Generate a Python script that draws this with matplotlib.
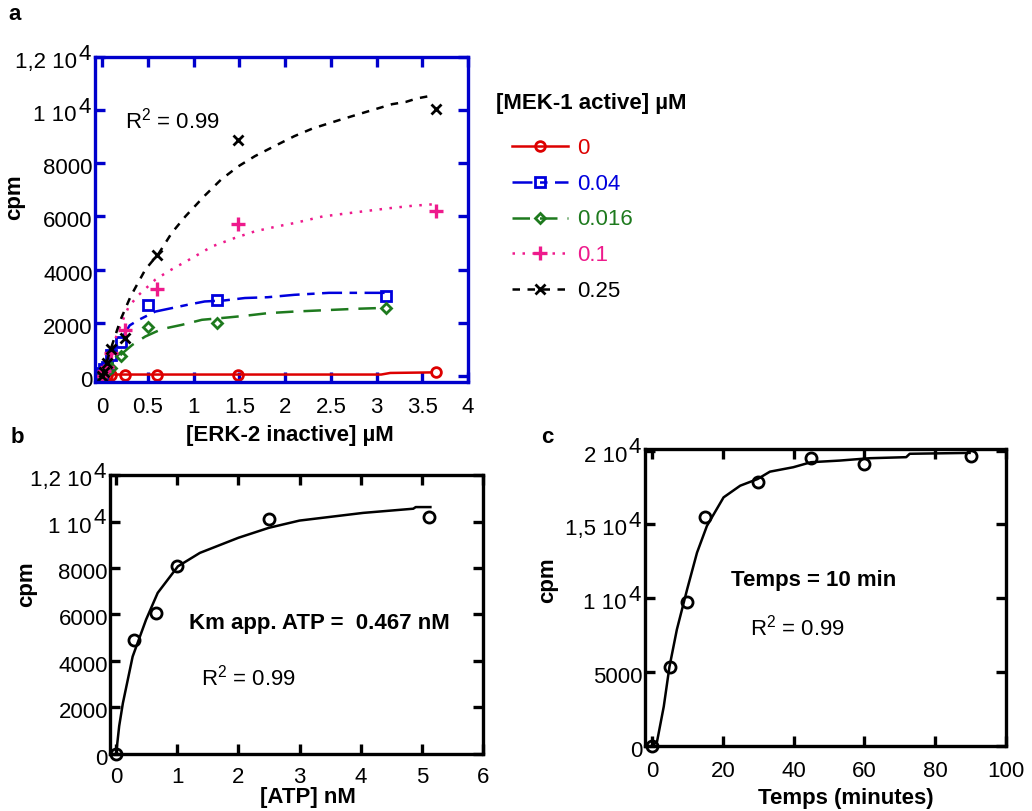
import numpy as np
import matplotlib
matplotlib.use('Agg')
import matplotlib.pyplot as plt
from matplotlib.transforms import ScaledTranslation, blended_transform_factory

plt.rcParams['font.family'] = ['Liberation Sans', 'DejaVu Sans']
plt.rcParams['mathtext.fontset'] = 'custom'
plt.rcParams['mathtext.rm'] = 'Liberation Sans'

# ---- panel a data ----
mek_labels = ['0', '0.04', '0.016', '0.1', '0.25']
x_a1 = [0, 0.02, 0.05, 0.1, 0.25, 0.6, 1.48, 3.65]   # red / pink / black
x_a2 = [0, 0.02, 0.05, 0.1, 0.2, 0.5, 1.25, 3.1]     # blue / green
y_red = [0, 40, 40, 40, 40, 40, 40, 130]
y_blue = [100, 250, 350, 790, 1290, 2670, 2840, 3000]
y_green = [0, 100, 200, 290, 730, 1830, 1985, 2560]
y_pink = [0, 200, 350, 850, 1710, 3260, 5710, 6190]
y_black = [0, 150, 500, 1000, 1420, 4535, 8890, 10040]

# fitted curves
fx_red = [0, 0.5, 1.0, 2.0, 3.05, 3.15, 3.6]
fy_red = [50, 50, 50, 50, 50, 110, 130]
fx_blue = [0, 0.1, 0.22, 0.3, 0.4, 0.58, 0.76, 0.94, 1.12, 1.34, 1.56, 1.81, 2.1, 2.48, 2.99, 3.1]
fy_blue = [0, 850, 1450, 1900, 2110, 2420, 2550, 2680, 2800, 2840, 2930, 2960, 3050, 3125, 3125, 3125]
fx_green = [0, 0.1, 0.22, 0.33, 0.47, 0.65, 0.87, 1.09, 1.38, 1.56, 1.81, 2.1, 2.78, 3.1]
fy_green = [0, 450, 850, 1170, 1480, 1760, 1920, 2110, 2200, 2260, 2360, 2420, 2525, 2560]
fx_pink = [0, 0.1, 0.2, 0.29, 0.4, 0.58, 0.72, 0.98, 1.2, 1.45, 1.67, 1.92, 2.1, 2.41, 2.78, 3.14, 3.39, 3.63]
fy_pink = [0, 1000, 1900, 2610, 3050, 3620, 3930, 4430, 4870, 5190, 5440, 5630, 5750, 6000, 6160, 6310, 6400, 6460]
fx_black = [0, 0.09, 0.2, 0.31, 0.47, 0.62, 0.76, 0.91, 1.12, 1.30, 1.49, 1.67, 1.88, 2.10, 2.30, 2.59,
            2.95, 3.17, 3.32, 3.44, 3.57]
fy_black = [0, 980, 2110, 2990, 3995, 4620, 5380, 6005, 6780, 7390, 7890, 8270, 8640, 9020, 9310, 9625,
            10000, 10225, 10310, 10440, 10525]

# ---- panel b data ----
atp = [0, 0.3, 0.65, 1.0, 2.5, 5.12]
cpm_b = [0, 4910, 6060, 8100, 10110, 10190]
fit_atp = [0, 0.05, 0.11, 0.27, 0.49, 0.68, 1.01, 1.37, 2.0, 2.5, 3.0, 4.04, 4.86, 4.9, 5.14]
fit_b = [0, 1200, 2180, 4190, 5780, 6930, 8070, 8650, 9300, 9730, 10040, 10370, 10550, 10620, 10620]

# ---- panel c data ----
temps = [0, 5, 10, 15, 30, 45, 60, 90]
cpm_c = [0, 5350, 9740, 15470, 17850, 19480, 19100, 19660]
fit_t = [0, 1.4, 3.3, 4.9, 7.0, 9.9, 12.7, 15.5, 20.2, 24.9, 29.8, 33.3, 39.9, 44.9, 53, 61.5, 71.8, 72.8, 89.7]
fit_c = [0, 300, 2670, 5350, 7880, 10600, 13090, 14900, 16830, 17620, 18070, 18570, 18870,
         19210, 19320, 19480, 19550, 19780, 19840]

FS = 16
blue_ax = '#0000CC'

fig = plt.figure(figsize=(10.32, 8.11), dpi=100)
px = lambda dx, dy: ScaledTranslation(dx / 100, dy / 100, fig.dpi_scale_trans)

def style(ax, color, xpad):
  for s in ax.spines.values():
    s.set_color(color)
    s.set_linewidth(2.4)
  ax.tick_params(direction='in', length=7, width=2.4, color=color, labelsize=FS,
                 top=True, right=True)
  ax.tick_params(axis='y', pad=1.5)
  ax.tick_params(axis='x', pad=xpad)

def yticks(ax, ticks, labels, sup):
  # labels written "1 10" + a raised "4" like the original
  ax.set_yticks(ticks, labels)
  for lab, s in zip(ax.get_yticklabels(), sup):
    lab.set_transform(lab.get_transform() + px(-16 if s else 0, -3))
  tr = blended_transform_factory(ax.transAxes, ax.transData)
  for t, s in zip(ticks, sup):
    if s:
      ax.text(0, t, '4', transform=tr + px(-4, 3), ha='right', va='center', fontsize=FS)

# panel a
ax1 = fig.add_axes([0.092, 0.529, 0.3615, 0.4007])
series = [
  (x_a1, y_red, fx_red, fy_red, '#DD0000', 'o', '-'),
  (x_a2, y_blue, fx_blue, fy_blue, '#0000DD', 's', (0, (8, 3, 3, 3))),
  (x_a2, y_green, fx_green, fy_green, '#1E7A1E', 'D', (0, (7, 4))),
  (x_a1, y_pink, fx_pink, fy_pink, '#EE1A8C', '+', (0, (1, 3))),
  (x_a1, y_black, fx_black, fy_black, 'black', 'x', (0, (3, 3))),
]
handles = []
for (xs, ys, fx, fy, c, m, ls), lab in zip(series, mek_labels):
  ax1.plot(fx, fy, color=c, linestyle=ls, lw=1.8)
  kw = dict(color=c, marker=m, mew=2)
  if m == '+':
    kw.update(ms=10, mew=2.4)
  elif m == 'x':
    kw.update(ms=7)
  else:
    kw.update(ms=5 if m == 'D' else 7, mfc='none')
  ax1.plot(xs, ys, linestyle='none', **kw)
  h, = ax1.plot([], [], linestyle=ls, lw=1.8, **kw)
  handles.append(h)
ax1.set_xlim(-0.08, 4.0)
ax1.set_ylim(-230, 12000)
ax1.set_xticks([0, 0.5, 1, 1.5, 2, 2.5, 3, 3.5, 4], ['0', '0.5', '1', '1.5', '2', '2.5', '3', '3.5', '4'])
style(ax1, blue_ax, 11)
yticks(ax1, [0, 2000, 4000, 6000, 8000, 10000, 12000],
       ['0', '2000', '4000', '6000', '8000', '1 10', '1,2 10'],
       [0, 0, 0, 0, 0, 1, 1])
ax1.set_ylabel('cpm', fontsize=FS, fontweight='bold')
ax1.yaxis.set_label_coords(-0.188, 0.57)
ax1.set_xlabel('[ERK-2 inactive] µM', fontsize=FS, fontweight='bold', va='top')
ax1.xaxis.set_label_coords(0.523, -0.132)
ax1.text(0.25, 9620, r'R$\mathregular{^2}$ = 0.99', fontsize=FS, va='center', ha='left')

fig.text(496 / 1032, 1 - 104 / 811, '[MEK-1 active] µM', fontsize=FS, fontweight='bold',
         va='center', ha='left')
fig.legend(handles, mek_labels, loc='upper left', bbox_to_anchor=(512 / 1032, 1 - 138 / 811),
           bbox_transform=fig.transFigure, frameon=False, fontsize=FS, labelcolor='linecolor',
           numpoints=1, handlelength=2.5, labelspacing=0.66, handletextpad=0.45,
           borderpad=0, borderaxespad=0)

# panel b
ax2 = fig.add_axes([0.1066, 0.0703, 0.3614, 0.344])
ax2.plot(fit_atp, fit_b, color='black', lw=1.8)
ax2.plot(atp, cpm_b, linestyle='none', marker='o', ms=8, mew=2, mfc='none', color='black', clip_on=False)
ax2.set_xlim(-0.1, 6)
ax2.set_ylim(0, 12000)
ax2.set_xticks(range(7))
style(ax2, 'black', 9.5)
yticks(ax2, [0, 2000, 4000, 6000, 8000, 10000, 12000],
       ['0', '2000', '4000', '6000', '8000', '1 10', '1,2 10'],
       [0, 0, 0, 0, 0, 1, 1])
ax2.set_ylabel('cpm', fontsize=FS, fontweight='bold')
ax2.yaxis.set_label_coords(-0.196, 0.61)
ax2.set_xlabel('[ATP] nM', fontsize=FS, fontweight='bold', va='top')
ax2.xaxis.set_label_coords(0.53, -0.118)
ax2.text(1.2, 5630, 'Km app. ATP =  0.467 nM', fontsize=FS, fontweight='bold', va='center', ha='left')
ax2.text(1.39, 3270, r'R$\mathregular{^2}$ = 0.99', fontsize=FS, va='center', ha='left')

# panel c
ax3 = fig.add_axes([0.625, 0.0801, 0.3498, 0.3662])
ax3.plot(fit_t, fit_c, color='black', lw=1.8)
ax3.plot(temps, cpm_c, linestyle='none', marker='o', ms=8, mew=2, mfc='none', color='black', clip_on=False)
ax3.set_xlim(-2, 100)
ax3.set_ylim(0, 20100)
ax3.set_xticks(range(0, 101, 20))
style(ax3, 'black', 11)
yticks(ax3, [0, 5000, 10000, 15000, 20000],
       ['0', '5000', '1 10', '1,5 10', '2 10'],
       [0, 0, 1, 1, 1])
ax3.set_ylabel('cpm', fontsize=FS, fontweight='bold')
ax3.yaxis.set_label_coords(-0.241, 0.56)
ax3.set_xlabel('Temps (minutes)', fontsize=FS, fontweight='bold', va='top')
ax3.xaxis.set_label_coords(0.557, -0.141)
ax3.text(22.3, 11230, 'Temps = 10 min', fontsize=FS, fontweight='bold', va='center', ha='left')
ax3.text(27.7, 7990, r'R$\mathregular{^2}$ = 0.99', fontsize=FS, va='center', ha='left')

fig.text(15 / 1032, 1 - 15 / 811, 'a', fontsize=FS, fontweight='bold', va='center', ha='center')
fig.text(17 / 1032, 1 - 437 / 811, 'b', fontsize=FS, fontweight='bold', va='center', ha='center')
fig.text(547 / 1032, 1 - 437 / 811, 'c', fontsize=FS, fontweight='bold', va='center', ha='center')

fig.savefig('out.png', dpi=100)
